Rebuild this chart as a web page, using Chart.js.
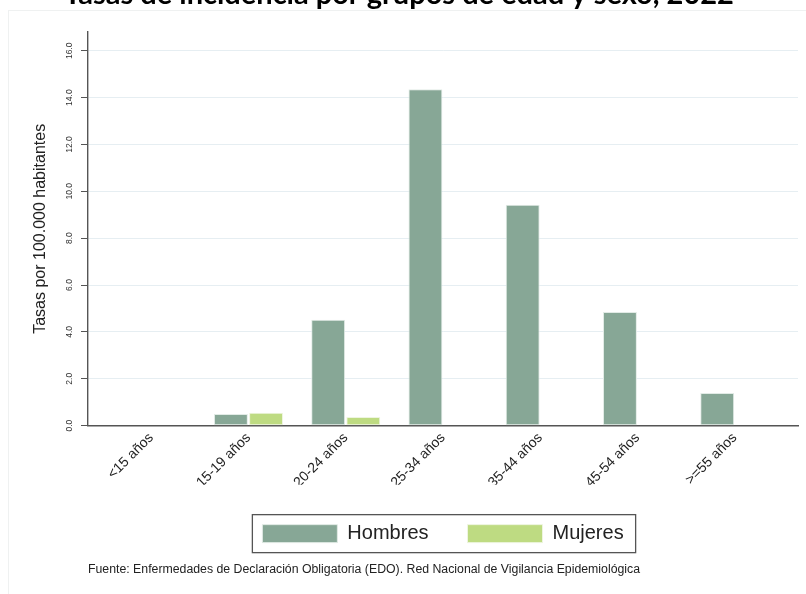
<!DOCTYPE html>
<html><head><meta charset="utf-8">
<script src="https://cdn.jsdelivr.net/npm/chart.js@4.4.1/dist/chart.umd.min.js"></script>
<style>
html,body{margin:0;padding:0;background:#fff;overflow:hidden;width:806px;height:594px;}
#frame{position:absolute;left:8px;top:10px;width:830px;height:620px;border:1px solid #eff1f1;box-sizing:border-box;}
#wrap{position:absolute;left:0;top:-23px;width:806px;height:617px;}
</style></head><body>
<div id="frame"></div>
<div id="wrap"><canvas id="c" width="806" height="617"></canvas></div>
<script>
const categories = ['<15 años','15-19 años','20-24 años','25-34 años','35-44 años','45-54 años','>=55 años'];
const hombres = [0, 0.50, 4.52, 14.36, 9.43, 4.85, 1.39];
const mujeres = [0, 0.55, 0.37, 0, 0, 0, 0];
const yTicks = [0, 2, 4, 6, 8, 10, 12, 14, 16];
const seriesNames = ['Hombres', 'Mujeres'];
const titleText = 'Tasas de incidencia por grupos de edad y sexo, 2022';
const yTitle = 'Tasas por 100.000 habitantes';
const footerText = 'Fuente: Enfermedades de Declaración Obligatoria (EDO). Red Nacional de Vigilancia Epidemiológica';

Chart.defaults.font.family = "'Liberation Sans', Arial, sans-serif";
Chart.defaults.color = '#222';

const legendBox = {
  id: 'legendBox',
  afterDraw(chart) {
    const hb = chart.legend && chart.legend.legendHitBoxes;
    if (!hb || !hb.length) return;
    const first = hb[0], last = hb[hb.length - 1];
    const l = first.left - 10, r = last.left + last.width + 12;
    const t = first.top - 9, b = first.top + first.height + 9;
    const ctx = chart.ctx;
    ctx.save();
    ctx.strokeStyle = '#555';
    ctx.lineWidth = 1.3;
    ctx.strokeRect(l, t, r - l, b - t);
    ctx.restore();
  }
};

new Chart(document.getElementById('c'), {
  type: 'bar',
  data: {
    datasets: [
      { label: seriesNames[0], data: hombres.map((v, i) => ({x: i, y: v})),
        backgroundColor: '#87a796', borderColor: '#e2ebe6', borderWidth: 1, borderSkipped: false },
      { label: seriesNames[1], data: mujeres.map((v, i) => ({x: i, y: v})),
        backgroundColor: '#bedb82', borderColor: '#eef5e0', borderWidth: 1, borderSkipped: false }
    ]
  },
  options: {
    responsive: false,
    animation: false,
    events: [],
    categoryPercentage: 0.7225,
    barPercentage: 0.965,
    layout: { padding: { left: 0, right: 8, top: 0, bottom: 0 } },
    scales: {
      x: {
        type: 'linear',
        offset: false,
        bounds: 'data',
        min: -0.65, max: 6.65,
        afterBuildTicks: s => { s.ticks = categories.map((c, i) => ({value: i})); },
        afterFit: s => { s.height = 59; },
        grid: { display: false, drawTicks: false, offset: false },
        border: { display: true, color: '#555', width: 1.4 },
        ticks: { autoSkip: false, minRotation: 45, maxRotation: 45, padding: 4,
                 font: { size: 14 }, color: '#222',
                 callback: v => categories[v] }
      },
      y: {
        min: 0, max: 16.8,
        afterBuildTicks: s => { s.ticks = yTicks.map(v => ({value: v})); },
        afterFit: s => { s.width = 88; },
        grid: { color: '#e6eef2', lineWidth: 1, tickLength: 7, tickColor: '#555', tickWidth: 1 },
        border: { display: true, color: '#555', width: 1.4 },
        ticks: { minRotation: 90, maxRotation: 90, crossAlign: 'center', padding: 3,
                 font: { size: 8.5 }, color: '#333',
                 callback: v => Number(v).toFixed(1) },
        title: { display: true, text: yTitle, font: { size: 16 }, color: '#222',
                 padding: { top: 31.4, bottom: 0 } }
      }
    },
    plugins: {
      tooltip: { enabled: false },
      title: { display: true, text: titleText, font: { family: 'Lato', weight: 'bold', size: 29 },
               color: '#000', padding: { top: 0, bottom: 20.2 } },
      legend: {
        position: 'bottom', fullSize: false,
        labels: { boxWidth: 75, boxHeight: 18, padding: 39, font: { size: 20 }, color: '#222' }
      },
      subtitle: {
        display: true, position: 'bottom', align: 'start', fullSize: false, text: footerText,
        font: { size: 12.3 }, color: '#222', padding: { top: 8.8, bottom: 16.8 }
      }
    }
  },
  plugins: [legendBox]
});
</script>
</body></html>
